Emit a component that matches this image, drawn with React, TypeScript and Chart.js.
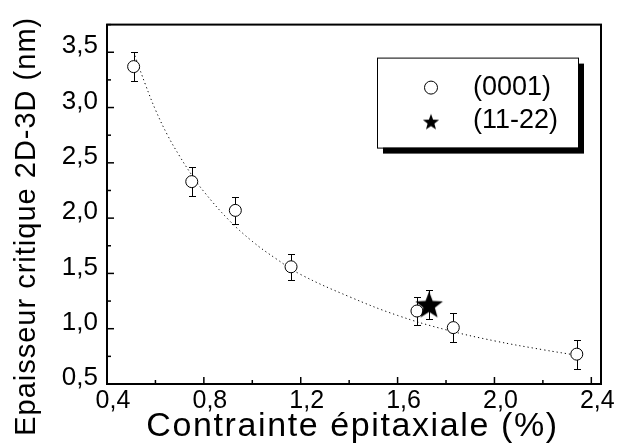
import React, { useEffect, useRef } from 'react';
import { Chart, registerables } from 'chart.js';

Chart.register(...registerables);

// ---- data ----
const X_0001 = [0.51, 0.75, 0.93, 1.16, 1.68, 1.83, 2.34];
const Y_0001 = [3.37, 2.33, 2.07, 1.56, 1.16, 1.01, 0.77];
const ERR_0001 = [0.13, 0.13, 0.12, 0.12, 0.13, 0.13, 0.13];

const X_1122 = [1.73];
const Y_1122 = [1.22];
const ERR_1122 = [0.13];

const FIT_X = [0.515, 0.56, 0.6, 0.65, 0.7, 0.75, 0.8, 0.9, 1.0, 1.1, 1.2, 1.4, 1.6, 1.8, 2.0, 2.2, 2.34];
const FIT_Y = [3.47, 3.2, 2.98, 2.75, 2.56, 2.39, 2.24, 1.99, 1.79, 1.63, 1.49, 1.29, 1.12, 0.99, 0.89, 0.81, 0.76];

const LEGEND_LABELS = ['(0001)', '(11-22)'];
const X_TITLE = 'Contrainte épitaxiale (%)';
const Y_TITLE = 'Epaisseur critique 2D-3D (nm)';

const X_MIN = 0.4;
const X_MAX = 2.44;
const X_STEP = 0.2;
const X_MAJOR = 0.4;
const Y_MIN = 0.5;
const Y_MAX = 3.75;
const Y_STEP = 0.25;
const Y_MAJOR = 0.5;

const FONT = '"Liberation Sans", Arial, Helvetica, sans-serif';

function isMajor(v: number, step: number) {
  return Math.abs(v / step - Math.round(v / step)) < 1e-6;
}
function fmt(v: number) {
  return v.toFixed(1).replace('.', ',');
}

function makeStar(size: number) {
  const c = document.createElement('canvas');
  c.width = size;
  c.height = size;
  const ctx = c.getContext('2d')!;
  const R = size / 2 - 0.5;
  const r = R * 0.42;
  const cx = size / 2;
  const cy = size / 2 + R * 0.095;
  ctx.fillStyle = '#000';
  ctx.beginPath();
  for (let i = 0; i < 10; i++) {
    const a = -Math.PI / 2 + (i * Math.PI) / 5;
    const rad = i % 2 === 0 ? R : r;
    ctx.lineTo(cx + rad * Math.cos(a), cy + rad * Math.sin(a));
  }
  ctx.closePath();
  ctx.fill();
  return c;
}

const errorBars = {
  id: 'errorBars',
  beforeDatasetsDraw(chart: any) {
    const ctx = chart.ctx;
    const xs = chart.scales.x;
    const ys = chart.scales.y;
    ctx.save();
    ctx.strokeStyle = '#000';
    ctx.lineWidth = 1;
    chart.data.datasets.forEach((ds: any) => {
      if (!ds.errors) return;
      ds.data.forEach((p: any, i: number) => {
        const x = Math.round(xs.getPixelForValue(p.x)) + 0.5;
        const y1 = Math.round(ys.getPixelForValue(p.y + ds.errors[i])) + 0.5;
        const y2 = Math.round(ys.getPixelForValue(p.y - ds.errors[i])) + 0.5;
        ctx.beginPath();
        ctx.moveTo(x, y1);
        ctx.lineTo(x, y2);
        ctx.moveTo(x - 3.5, y1);
        ctx.lineTo(x + 3.5, y1);
        ctx.moveTo(x - 3.5, y2);
        ctx.lineTo(x + 3.5, y2);
        ctx.stroke();
      });
    });
    ctx.restore();
  },
};

const frameAndTicks = {
  id: 'frameAndTicks',
  afterDraw(chart: any) {
    const ctx = chart.ctx;
    const { left, right, top, bottom } = chart.chartArea;
    ctx.save();
    ctx.strokeStyle = '#000';
    ctx.lineWidth = 1.5;
    chart.scales.x.ticks.forEach((t: any) => {
      const px = chart.scales.x.getPixelForValue(t.value);
      const len = isMajor(t.value, X_MAJOR) ? 7 : 4;
      ctx.beginPath();
      ctx.moveTo(px, bottom);
      ctx.lineTo(px, bottom - len);
      ctx.stroke();
    });
    chart.scales.y.ticks.forEach((t: any) => {
      const py = chart.scales.y.getPixelForValue(t.value);
      const len = isMajor(t.value, Y_MAJOR) ? 7 : 4;
      ctx.beginPath();
      ctx.moveTo(left, py);
      ctx.lineTo(left + len, py);
      ctx.stroke();
    });
    ctx.lineWidth = 2;
    ctx.strokeRect(left, top, right - left, bottom - top);
    ctx.restore();

    // axis titles
    ctx.save();
    ctx.fillStyle = '#000';
    ctx.textBaseline = 'alphabetic';
    ctx.textAlign = 'left';
    (ctx as any).letterSpacing = '1.6px';
    ctx.font = `34px ${FONT}`;
    const xw = ctx.measureText(X_TITLE).width;
    ctx.fillText(X_TITLE, (left + right) / 2 - 1.5 - xw / 2, 436);
    (ctx as any).letterSpacing = '1px';
    ctx.font = `29px ${FONT}`;
    const yw = ctx.measureText(Y_TITLE).width;
    ctx.translate(35, (top + bottom) / 2 + 22);
    ctx.rotate(-Math.PI / 2);
    ctx.fillText(Y_TITLE, -yw / 2, 0);
    (ctx as any).letterSpacing = '0px';
    ctx.restore();

    // legend
    const lx = right - 224;
    const ly = top + 33;
    const lw = 201;
    const lh = 90;
    ctx.save();
    ctx.fillStyle = '#000';
    ctx.fillRect(lx + 6, ly + 6, lw, lh);
    ctx.fillStyle = '#fff';
    ctx.fillRect(lx, ly, lw, lh);
    ctx.strokeStyle = '#000';
    ctx.lineWidth = 1;
    ctx.strokeRect(lx + 0.5, ly + 0.5, lw, lh);
    const ds = chart.data.datasets;
    const circleDs = ds.find((d: any) => d.label === LEGEND_LABELS[0]);
    const starDs = ds.find((d: any) => d.label === LEGEND_LABELS[1]);
    ctx.beginPath();
    ctx.arc(lx + 54, ly + 30, 6.5, 0, Math.PI * 2);
    ctx.fillStyle = '#fff';
    ctx.fill();
    ctx.stroke();
    const smallStar = makeStar(18);
    ctx.drawImage(smallStar, lx + 54 - 9, ly + 64 - 9);
    ctx.fillStyle = '#000';
    ctx.font = `27px ${FONT}`;
    ctx.textAlign = 'left';
    ctx.textBaseline = 'middle';
    ctx.fillText(circleDs.label, lx + 96, ly + 30);
    ctx.fillText(starDs.label, lx + 96, ly + 63);
    ctx.restore();
  },
};

export default function App() {
  const ref = useRef<HTMLCanvasElement>(null);
  useEffect(() => {
    Chart.defaults.font.family = FONT;
    Chart.defaults.color = '#000';
    const starImg = makeStar(30);
    const chart = new Chart(ref.current!, {
      type: 'scatter',
      data: {
        datasets: [
          {
            label: LEGEND_LABELS[1],
            data: X_1122.map((x, i) => ({ x, y: Y_1122[i] })),
            pointStyle: starImg as any,
            pointRadius: 15,
            backgroundColor: '#000',
            borderColor: '#000',
            order: 0,
            errors: ERR_1122,
          } as any,
          {
            label: LEGEND_LABELS[0],
            data: X_0001.map((x, i) => ({ x, y: Y_0001[i] })),
            pointStyle: 'circle',
            pointRadius: 6,
            backgroundColor: '#fff',
            borderColor: '#000',
            borderWidth: 1,
            order: 1,
            errors: ERR_0001,
          } as any,
          {
            type: 'line',
            label: 'fit',
            data: FIT_X.map((x, i) => ({ x, y: FIT_Y[i] })),
            showLine: true,
            borderColor: '#000',
            borderWidth: 1,
            borderDash: [1.2, 3],
            pointRadius: 0,
            tension: 0.4,
            fill: false,
            order: 2,
          } as any,
        ],
      },
      options: {
        responsive: false,
        animation: false,
        devicePixelRatio: 1,
        layout: { padding: { top: 16, right: 16, left: 0, bottom: 0 } },
        plugins: { legend: { display: false }, tooltip: { enabled: false } },
        scales: {
          x: {
            type: 'linear',
            min: X_MIN,
            max: X_MAX,
            afterFit: (s: any) => {
              s.height = 62;
            },
            grid: { display: false, drawTicks: false },
            border: { display: false },
            ticks: {
              stepSize: X_STEP,
              includeBounds: false,
              autoSkip: false,
              maxRotation: 0,
              padding: 2,
              labelOffset: 6,
              font: { size: 25 },
              color: '#000',
              callback: (v: any) => (isMajor(Number(v), X_MAJOR) ? fmt(Number(v)) : ''),
            },
            title: { display: false },
          },
          y: {
            type: 'linear',
            min: Y_MIN,
            max: Y_MAX,
            afterFit: (s: any) => {
              s.width = 107;
            },
            grid: { display: false, drawTicks: false },
            border: { display: false },
            ticks: {
              stepSize: Y_STEP,
              includeBounds: false,
              autoSkip: false,
              padding: 9,
              labelOffset: -6,
              font: { size: 26 },
              color: '#000',
              callback: (v: any) => (isMajor(Number(v), Y_MAJOR) ? fmt(Number(v)) : ''),
            },
            title: { display: false },
          },
        },
      },
      plugins: [errorBars, frameAndTicks],
    } as any);
    return () => chart.destroy();
  }, []);
  return (
    <div style={{ position: 'fixed', left: 0, top: 0, width: 617, height: 446, background: '#fff' }}>
      <canvas ref={ref} width={617} height={446} style={{ display: 'block', width: 617, height: 446 }} />
    </div>
  );
}
